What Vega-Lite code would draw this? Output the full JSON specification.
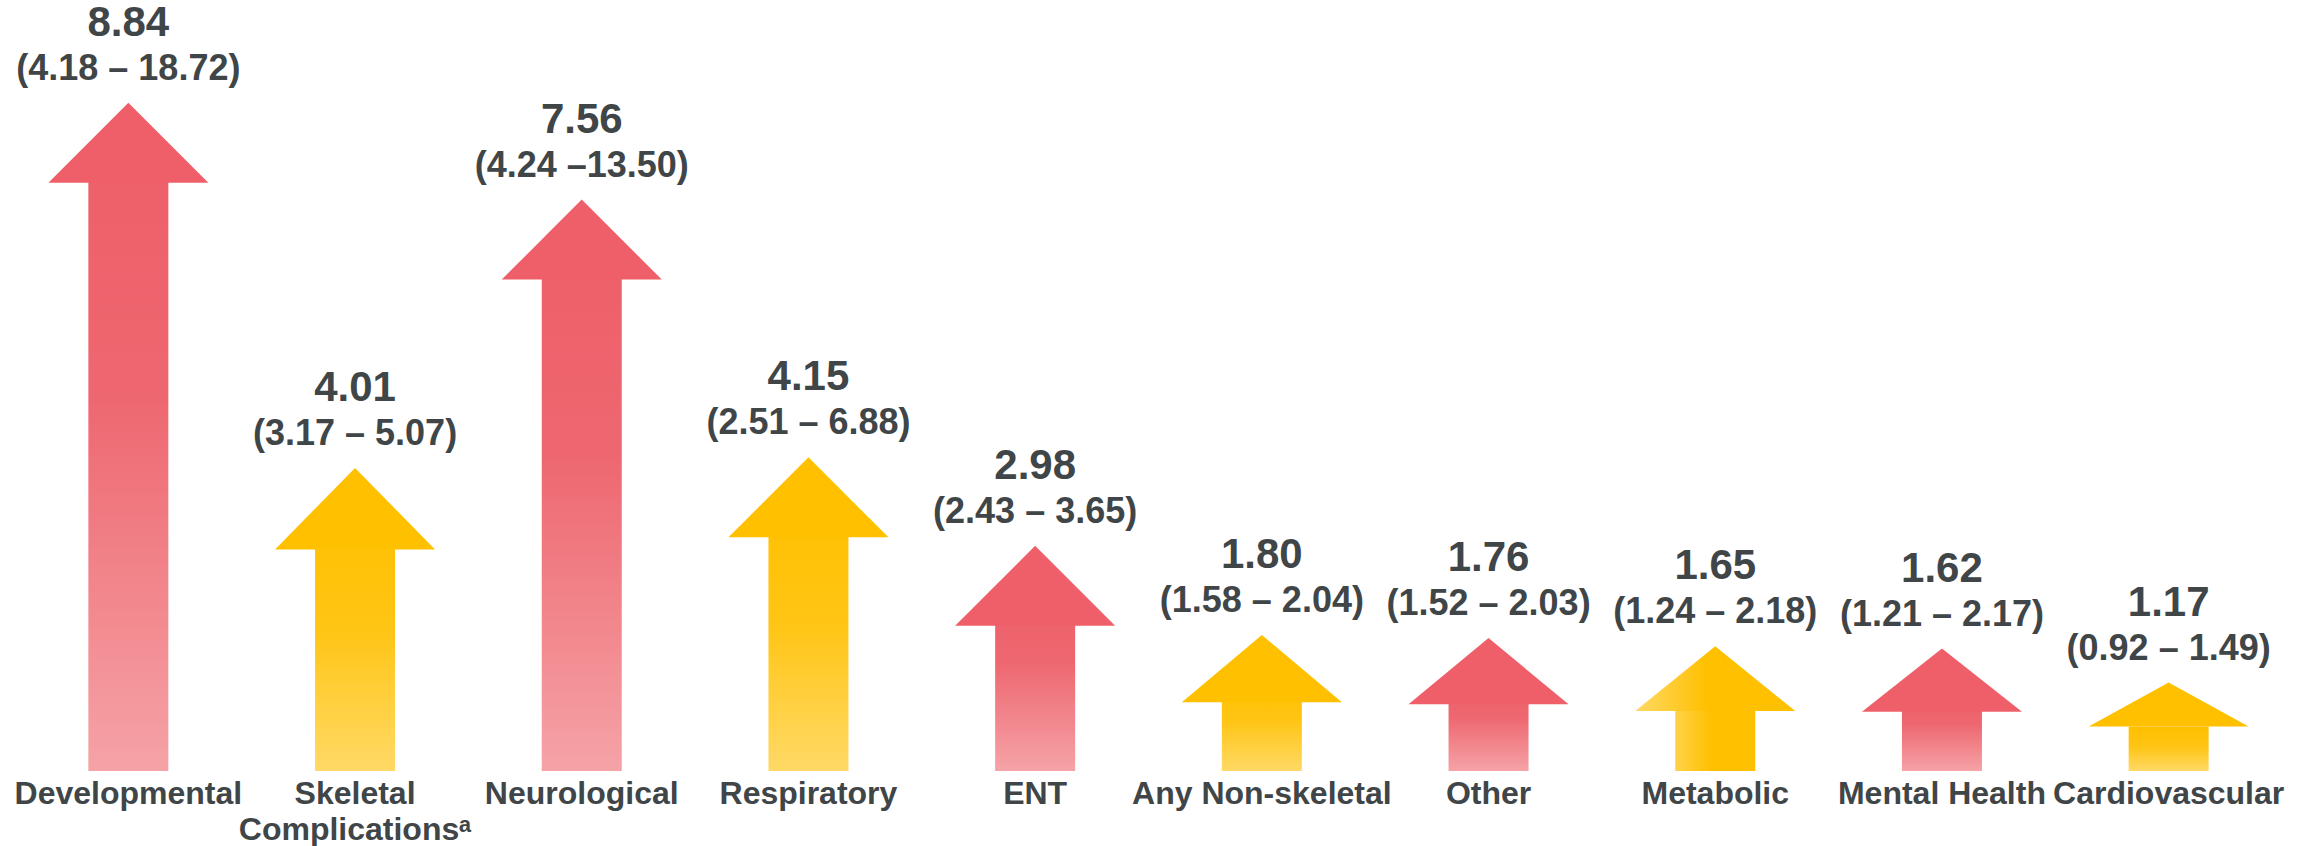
{
  "$schema": "https://vega.github.io/schema/vega-lite/v6.json",
  "width": 2267,
  "height": 771,
  "autosize": {"type": "none"},
  "padding": {"left": 15, "top": 0, "right": 25, "bottom": 75},
  "background": "#ffffff",
  "config": {"view": {"stroke": null}},
  "data": {
    "values": [
      {"cat": "Developmental", "value": 8.84, "ci": "(4.18 – 18.72)"},
      {"cat": "Skeletal Complicationsᵃ", "value": 4.01, "ci": "(3.17 – 5.07)"},
      {"cat": "Neurological", "value": 7.56, "ci": "(4.24 –13.50)"},
      {"cat": "Respiratory", "value": 4.15, "ci": "(2.51 – 6.88)"},
      {"cat": "ENT", "value": 2.98, "ci": "(2.43 – 3.65)"},
      {"cat": "Any Non-skeletal", "value": 1.80, "ci": "(1.58 – 2.04)"},
      {"cat": "Other", "value": 1.76, "ci": "(1.52 – 2.03)"},
      {"cat": "Metabolic", "value": 1.65, "ci": "(1.24 – 2.18)"},
      {"cat": "Mental Health", "value": 1.62, "ci": "(1.21 – 2.17)"},
      {"cat": "Cardiovascular", "value": 1.17, "ci": "(0.92 – 1.49)"}
    ]
  },
  "encoding": {
    "x": {
      "field": "cat",
      "type": "nominal",
      "sort": null,
      "scale": {
        "domain": ["Developmental", "Skeletal Complicationsᵃ", "Neurological", "Respiratory", "ENT", "Any Non-skeletal", "Other", "Metabolic", "Mental Health", "Cardiovascular"],
        "paddingInner": 0, "paddingOuter": 0
      },
      "axis": {
        "title": null,
        "domain": false,
        "ticks": false,
        "tickSize": 0,
        "grid": false,
        "labelAngle": 0,
        "labelFont": "Liberation Sans",
        "labelFontWeight": "bold",
        "labelFontSize": 32,
        "labelColor": "#404548",
        "labelPadding": 7,
        "labelLimit": 0,
        "labelLineHeight": 36,
        "labelExpr": "datum.label == 'Skeletal Complicationsᵃ' ? ['Skeletal', 'Complicationsᵃ'] : datum.label"
      }
    },
    "y": {
      "field": "value",
      "type": "quantitative",
      "scale": {"domain": [0, 10.2], "nice": false, "zero": true},
      "axis": null
    }
  },
  "layer": [
    {
      "transform": [{"filter": {"field": "cat", "oneOf": ["Developmental", "Neurological", "ENT", "Other", "Mental Health"]}}],
      "mark": {
        "type": "bar", "width": 80, "yOffset": 44, "clip": true,
        "color": {"gradient": "linear", "x1": 0, "y1": 0, "x2": 0, "y2": 1,
          "stops": [{"offset": 0, "color": "#EE5F69"}, {"offset": 0.4, "color": "#EE6770"}, {"offset": 1, "color": "#F5A3A7"}]}
      },
      "encoding": {"y2": {"datum": 0}}
    },
    {
      "transform": [{"filter": {"field": "cat", "oneOf": ["Skeletal Complicationsᵃ", "Respiratory", "Any Non-skeletal", "Cardiovascular"]}}],
      "mark": {
        "type": "bar", "width": 80, "yOffset": 44, "clip": true,
        "color": {"gradient": "linear", "x1": 0, "y1": 0, "x2": 0, "y2": 1,
          "stops": [{"offset": 0, "color": "#FFC000"}, {"offset": 0.45, "color": "#FFC514"}, {"offset": 1, "color": "#FFD966"}]}
      },
      "encoding": {"y2": {"datum": 0}}
    },
    {
      "transform": [{"filter": {"field": "cat", "equal": "Metabolic"}}],
      "mark": {
        "type": "bar", "width": 80, "yOffset": 44, "clip": true,
        "color": {"gradient": "linear", "x1": 0, "y1": 0, "x2": 1, "y2": 0,
          "stops": [{"offset": 0, "color": "#FFD24A"}, {"offset": 0.45, "color": "#FFC000"}, {"offset": 1, "color": "#FFC000"}]}
      },
      "encoding": {"y2": {"datum": 0}}
    },
    {
      "transform": [{"filter": {"field": "cat", "oneOf": ["Developmental", "Neurological", "ENT", "Other", "Mental Health"]}}],
      "mark": {"type": "point", "filled": true, "opacity": 1, "size": 25600, "strokeWidth": 0, "color": "#EE5F69"},
      "encoding": {
        "shape": {
          "field": "cat", "type": "nominal", "legend": null,
          "scale": {
            "domain": ["Developmental", "Skeletal Complicationsᵃ", "Neurological", "Respiratory", "ENT", "Any Non-skeletal", "Other", "Metabolic", "Mental Health", "Cardiovascular"],
            "range": ["M0,0L1,1L-1,1Z", "M0,0L1,1.02L-1,1.02Z", "M0,0L1,1L-1,1Z", "M0,0L1,1L-1,1Z", "M0,0L1,1L-1,1Z", "M0,0L1,0.84L-1,0.84Z", "M0,0L1,0.83L-1,0.83Z", "M0,0L1,0.81L-1,0.81Z", "M0,0L1,0.79L-1,0.79Z", "M0,0L1,0.55L-1,0.55Z"]
          }
        }
      }
    },
    {
      "transform": [{"filter": {"field": "cat", "oneOf": ["Skeletal Complicationsᵃ", "Respiratory", "Any Non-skeletal", "Cardiovascular"]}}],
      "mark": {"type": "point", "filled": true, "opacity": 1, "size": 25600, "strokeWidth": 0, "color": "#FFC000"},
      "encoding": {
        "shape": {
          "field": "cat", "type": "nominal", "legend": null,
          "scale": {
            "domain": ["Developmental", "Skeletal Complicationsᵃ", "Neurological", "Respiratory", "ENT", "Any Non-skeletal", "Other", "Metabolic", "Mental Health", "Cardiovascular"],
            "range": ["M0,0L1,1L-1,1Z", "M0,0L1,1.02L-1,1.02Z", "M0,0L1,1L-1,1Z", "M0,0L1,1L-1,1Z", "M0,0L1,1L-1,1Z", "M0,0L1,0.84L-1,0.84Z", "M0,0L1,0.83L-1,0.83Z", "M0,0L1,0.81L-1,0.81Z", "M0,0L1,0.79L-1,0.79Z", "M0,0L1,0.55L-1,0.55Z"]
          }
        }
      }
    },
    {
      "transform": [{"filter": {"field": "cat", "equal": "Metabolic"}}],
      "mark": {"type": "point", "filled": true, "opacity": 1, "size": 25600, "strokeWidth": 0,
        "color": {"gradient": "linear", "x1": 0, "y1": 0, "x2": 1, "y2": 0,
          "stops": [{"offset": 0, "color": "#FFD966"}, {"offset": 0.45, "color": "#FFC000"}, {"offset": 1, "color": "#FFC000"}]}},
      "encoding": {
        "shape": {
          "field": "cat", "type": "nominal", "legend": null,
          "scale": {
            "domain": ["Developmental", "Skeletal Complicationsᵃ", "Neurological", "Respiratory", "ENT", "Any Non-skeletal", "Other", "Metabolic", "Mental Health", "Cardiovascular"],
            "range": ["M0,0L1,1L-1,1Z", "M0,0L1,1.02L-1,1.02Z", "M0,0L1,1L-1,1Z", "M0,0L1,1L-1,1Z", "M0,0L1,1L-1,1Z", "M0,0L1,0.84L-1,0.84Z", "M0,0L1,0.83L-1,0.83Z", "M0,0L1,0.81L-1,0.81Z", "M0,0L1,0.79L-1,0.79Z", "M0,0L1,0.55L-1,0.55Z"]
          }
        }
      }
    },
    {
      "mark": {"type": "text", "font": "Liberation Sans", "fontWeight": "bold", "fontSize": 42, "color": "#404548", "baseline": "alphabetic", "align": "center", "dy": -67},
      "encoding": {"text": {"field": "value", "type": "quantitative", "format": ".2f"}}
    },
    {
      "mark": {"type": "text", "font": "Liberation Sans", "fontWeight": "bold", "fontSize": 36, "color": "#404548", "baseline": "alphabetic", "align": "center", "dy": -23},
      "encoding": {"text": {"field": "ci", "type": "nominal"}}
    }
  ]
}
